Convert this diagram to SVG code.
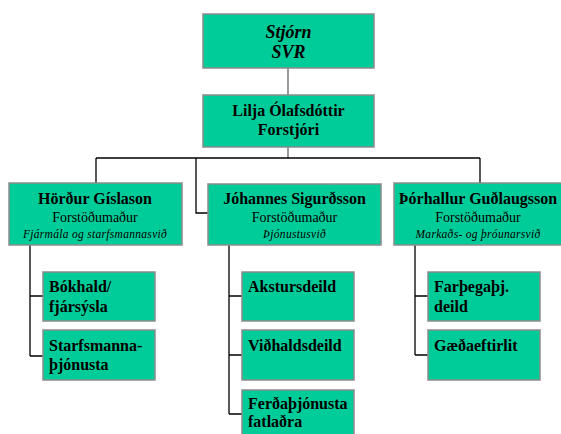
<svg xmlns="http://www.w3.org/2000/svg" width="561" height="434" viewBox="0 0 561 434">
<style>
.box{fill:#00CC99;stroke:#8c8c8c;stroke-width:1.5}
text{font-family:"Liberation Serif","Times New Roman",serif;fill:#000}
.t{font-size:16px;font-weight:bold;text-anchor:middle}
.ti{font-size:18px;font-weight:bold;font-style:italic;text-anchor:middle}
.s{font-size:14px;text-anchor:middle}
.i{font-size:11.5px;font-style:italic;text-anchor:middle;letter-spacing:0.3px}
.c{font-size:16px;font-weight:bold}
.ln{fill:none;stroke:#000;stroke-width:1.3}
.lg{fill:none;stroke:#666;stroke-width:1.3}
</style>
<rect width="561" height="434" fill="#fff"/>
<g id="connectors">
<path class="lg" d="M288,68V95M288,147V158"/>
<path class="ln" d="M96,158H480M96,158V183M480,158V183M196,158V213H208"/>
<path class="ln" d="M30,245V356M30,296H43M30,356H43"/>
<path class="ln" d="M229,245V414M229,296H242M229,355H242M229,414H242"/>
<path class="ln" d="M415,245V355M415,296H428M415,355H428"/>
</g>
<g id="stjorn">
<rect class="box" x="203" y="14" width="171" height="54"/>
<text class="ti" x="288.5" y="38">Stjórn</text>
<text class="ti" x="288.5" y="58">SVR</text>
</g>
<g id="lilja">
<rect class="box" x="203" y="95" width="171" height="52"/>
<text class="t" x="288.5" y="116">Lilja Ólafsdóttir</text>
<text class="t" x="288.5" y="135">Forstjóri</text>
</g>
<g id="hordur">
<rect class="box" x="9" y="183" width="173" height="62"/>
<text class="t" x="95" y="204">Hörður Gíslason</text>
<text class="s" x="95" y="222">Forstöðumaður</text>
<text class="i" x="95" y="238">Fjármála og starfsmannasvið</text>
</g>
<g id="johannes">
<rect class="box" x="208" y="184" width="173" height="61"/>
<text class="t" x="294.5" y="204">Jóhannes Sigurðsson</text>
<text class="s" x="294.5" y="222">Forstöðumaður</text>
<text class="i" x="294.5" y="238">Þjónustusvið</text>
</g>
<g id="thorhallur">
<rect class="box" x="394" y="183" width="173" height="62"/>
<text class="t" x="478" y="204">Þórhallur Guðlaugsson</text>
<text class="s" x="478" y="222">Forstöðumaður</text>
<text class="i" x="478" y="238">Markaðs- og þróunarsvið</text>
</g>
<g id="bokhald">
<rect class="box" x="43" y="272" width="112" height="49"/>
<text class="c" x="49" y="292">Bókhald/</text>
<text class="c" x="49" y="312">fjársýsla</text>
</g>
<g id="starfsmanna">
<rect class="box" x="43" y="330" width="112" height="50"/>
<text class="c" x="49" y="351">Starfsmanna-</text>
<text class="c" x="49" y="370">þjónusta</text>
</g>
<g id="akstursdeild">
<rect class="box" x="242" y="272" width="112" height="49"/>
<text class="c" x="248" y="292">Akstursdeild</text>
</g>
<g id="vidhaldsdeild">
<rect class="box" x="242" y="330" width="112" height="50"/>
<text class="c" x="248" y="351">Viðhaldsdeild</text>
</g>
<g id="ferdathjonusta">
<rect class="box" x="242" y="390" width="112" height="50"/>
<text class="c" x="248" y="409">Ferðaþjónusta</text>
<text class="c" x="248" y="427">fatlaðra</text>
</g>
<g id="farthegathj">
<rect class="box" x="428" y="272" width="112" height="49"/>
<text class="c" x="434" y="292">Farþegaþj.</text>
<text class="c" x="434" y="312">deild</text>
</g>
<g id="gaedaeftirlit">
<rect class="box" x="428" y="330" width="112" height="50"/>
<text class="c" x="434" y="351">Gæðaeftirlit</text>
</g>
</svg>
